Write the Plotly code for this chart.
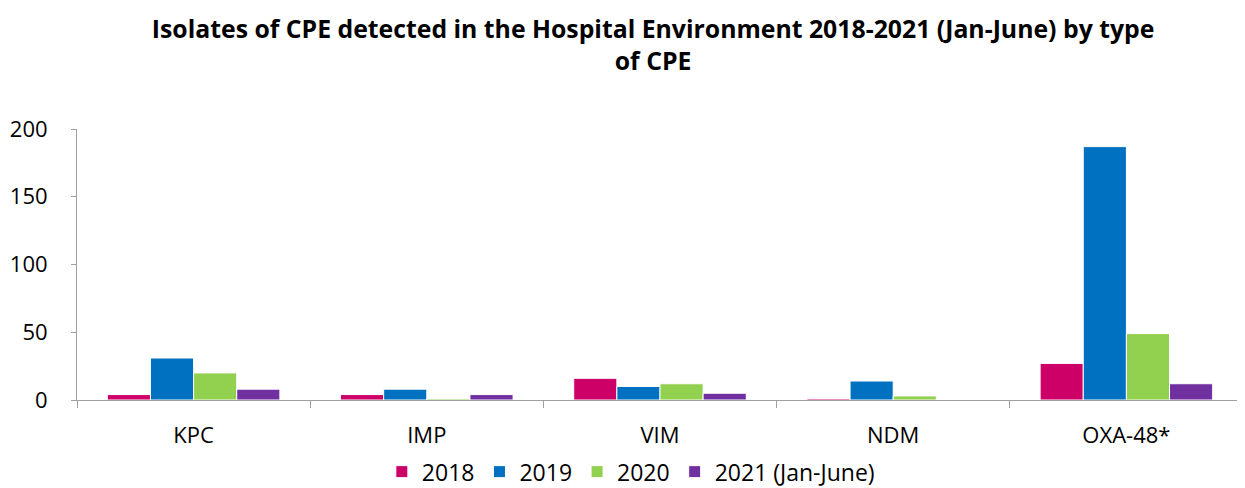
import plotly.graph_objects as go

categories = ["KPC", "IMP", "VIM", "NDM", "OXA-48*"]
series_names = ["2018", "2019", "2020", "2021 (Jan-June)"]
values_2018 = [4, 4, 16, 1, 27]
values_2019 = [31, 8, 10, 14, 187]
values_2020 = [20, 1, 12, 3, 49]
values_2021 = [8, 4, 5, 0, 12]
colors = ["#CC0066", "#0070C0", "#92D050", "#7030A0"]

all_values = [values_2018, values_2019, values_2020, values_2021]

fig = go.Figure()
for name, vals, col in zip(series_names, all_values, colors):
    fig.add_trace(go.Bar(
        x=categories, y=vals, name=name,
        marker=dict(color=col, line=dict(color="white", width=1)),
    ))

font_family = "Open Sans, Liberation Sans, sans-serif"
fig.update_layout(
    width=1237, height=480,
    paper_bgcolor="white", plot_bgcolor="white",
    barmode="group", bargap=0.26, bargroupgap=0,
    margin=dict(l=69, r=2, t=121, b=88, autoexpand=False),
    font=dict(family=font_family, size=18, color="#000000"),
    title=dict(
        text="<b>Isolates of CPE detected in the Hospital Environment 2018-2021 (Jan-June) by type<br>of CPE</b>",
        x=0.5215, xanchor="center", xref="container",
        y=0.937, yanchor="top", yref="container",
        font=dict(family=font_family, size=24.8, color="#000000"),
    ),
    legend=dict(
        orientation="h", x=0.475, xanchor="center", y=0.034, yanchor="middle",
        yref="container",
        font=dict(size=23), itemwidth=30, traceorder="normal",
    ),
    xaxis=dict(
        showline=True, linecolor="#A0A0A0", linewidth=1,
        ticks="outside", tickson="boundaries", ticklen=7, tickcolor="#A0A0A0",
        showgrid=False, tickfont=dict(size=22), automargin=False,
        ticklabelstandoff=16,
    ),
    yaxis=dict(
        range=[0, 200], tickvals=[0, 50, 100, 150, 200],
        showline=True, linecolor="#A0A0A0", linewidth=1,
        ticks="outside", ticklen=5, tickcolor="#A0A0A0",
        showgrid=False, zeroline=False, tickfont=dict(size=22),
        automargin=False, ticklabelstandoff=19,
    ),
)

fig.write_html("out.html")
